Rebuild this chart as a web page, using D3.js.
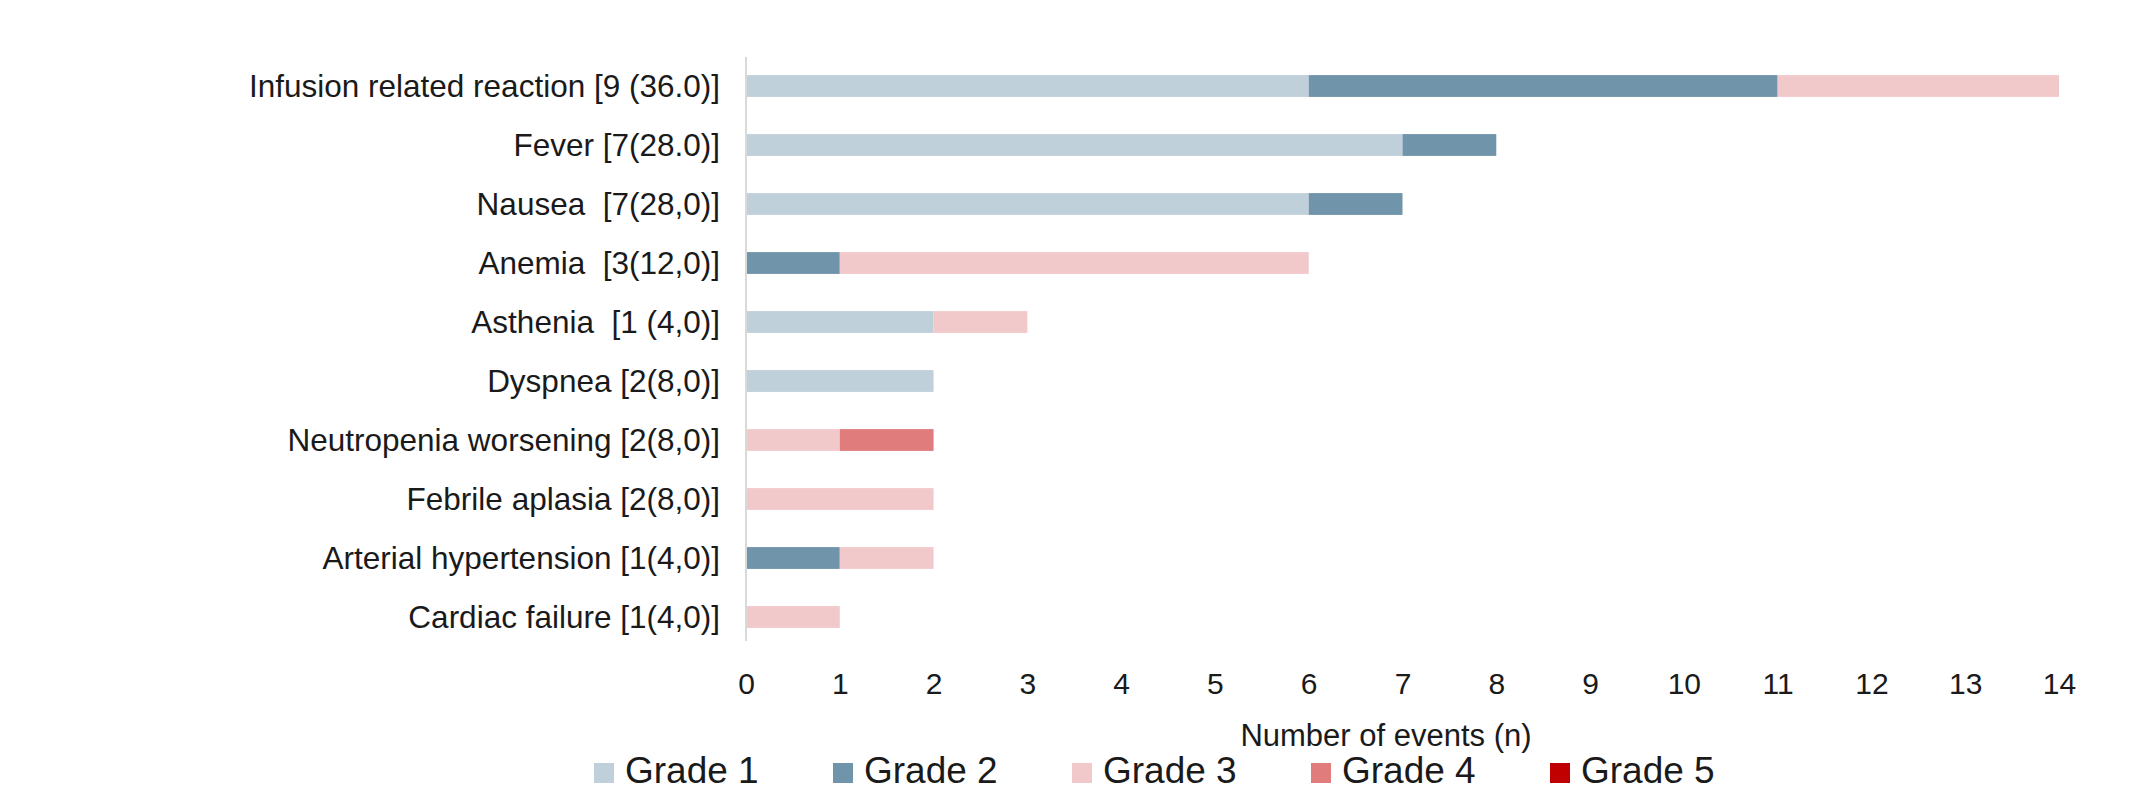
<!DOCTYPE html>
<html><head><meta charset="utf-8">
<script src="https://cdn.jsdelivr.net/npm/d3@7"></script>
<style>body{margin:0;background:#fff;} svg{display:block;} text{white-space:pre;}</style>
</head><body>
<svg id="chart" width="2139" height="790"></svg>
<script>
const categories = ["Infusion related reaction [9 (36.0)]","Fever [7(28.0)]","Nausea  [7(28,0)]","Anemia  [3(12,0)]","Asthenia  [1 (4,0)]","Dyspnea [2(8,0)]","Neutropenia worsening [2(8,0)]","Febrile aplasia [2(8,0)]","Arterial hypertension [1(4,0)]","Cardiac failure [1(4,0)]"];
const grade1 = [6,7,6,0,2,2,0,0,0,0];
const grade2 = [5,1,1,1,0,0,0,0,1,0];
const grade3 = [3,0,0,5,1,0,1,2,1,1];
const grade4 = [0,0,0,0,0,0,1,0,0,0];
const grade5 = [0,0,0,0,0,0,0,0,0,0];
const seriesNames = ["Grade 1","Grade 2","Grade 3","Grade 4","Grade 5"];
const colors = ["#c0d0da","#7094aa","#f2c9cb","#e07c7c","#c00000"];
const xTicks = [0,1,2,3,4,5,6,7,8,9,10,11,12,13,14];

const svg = d3.select("#chart");
const font = "'Liberation Sans', Arial, sans-serif";
const x = d3.scaleLinear().domain([0,14]).range([746,2059]);
const p = 0.63;
const y = d3.scaleBand().domain(categories).range([56.5,646.5]).paddingInner(p).paddingOuter(p/2);

const table = categories.map((c,i)=>({cat:c,"Grade 1":grade1[i],"Grade 2":grade2[i],"Grade 3":grade3[i],"Grade 4":grade4[i],"Grade 5":grade5[i]}));
const stacked = d3.stack().keys(seriesNames)(table);

svg.append("g").selectAll("g").data(stacked).join("g")
  .attr("fill",(d,i)=>colors[i])
  .selectAll("rect").data(d=>d.filter(e=>e[1]-e[0]>0)).join("rect")
  .attr("x",d=>x(d[0])).attr("width",d=>x(d[1])-x(d[0]))
  .attr("y",d=>y(d.data.cat)).attr("height",y.bandwidth());

// vertical axis line
svg.append("line").attr("x1",x(0)).attr("x2",x(0)).attr("y1",57).attr("y2",641)
  .attr("stroke","#d9d9d9").attr("stroke-width",2);

// category labels
svg.append("g").selectAll("text").data(categories).join("text")
  .attr("x",720).attr("y",d=>y(d)+y.bandwidth()/2).attr("dy","0.35em")
  .attr("text-anchor","end").attr("font-family",font).attr("font-size",31.5).attr("fill","#1a1a1a")
  .text(d=>d);

// x axis ticks
const xAxis = d3.axisBottom(x).tickValues(xTicks).tickSize(0).tickPadding(0).tickFormat(d3.format("d"));
const gx = svg.append("g").attr("transform","translate(0,694)").call(xAxis);
gx.select(".domain").remove();
gx.selectAll("text").attr("dy",0).attr("y",0).attr("font-family",font).attr("font-size",30).attr("fill","#1a1a1a");

svg.append("text").attr("x",1386).attr("y",746).attr("text-anchor","middle")
  .attr("font-family",font).attr("font-size",31).attr("fill","#1a1a1a").text("Number of events (n)");

// legend
const lg = svg.append("g").selectAll("g").data(seriesNames).join("g")
  .attr("transform",(d,i)=>`translate(${594+i*239},783)`);
lg.append("rect").attr("x",0).attr("y",-20).attr("width",20).attr("height",20).attr("fill",(d,i)=>colors[i]);
lg.append("text").attr("x",31).attr("y",0).attr("font-family",font).attr("font-size",37).attr("fill","#1a1a1a").text(d=>d);
</script>
</body></html>
